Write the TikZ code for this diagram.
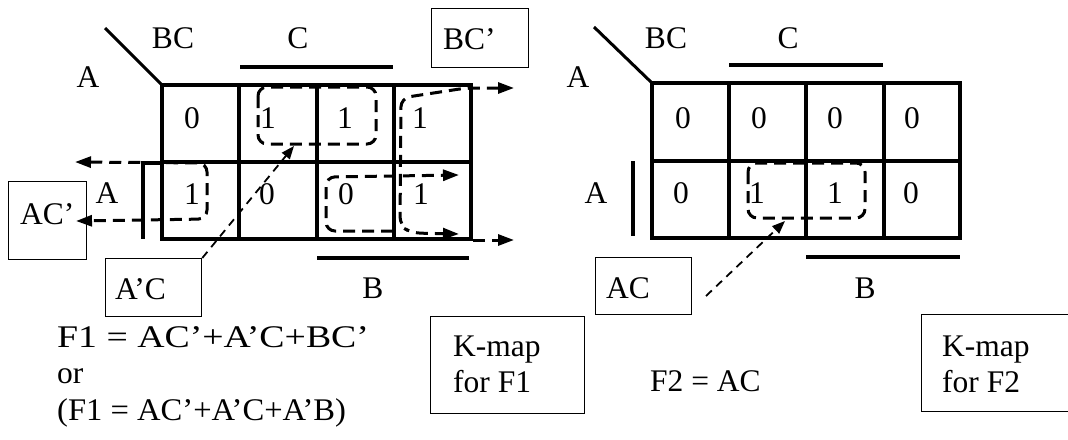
\documentclass[tikz,border=0pt]{standalone}
\usepackage{fontspec}
\setmainfont{Liberation Serif}
\usetikzlibrary{arrows.meta}
\begin{document}
\begin{tikzpicture}[x=1pt,y=-1pt,
  lab/.style={font=\fontsize{31.5}{36}\selectfont, inner sep=0pt},
  gridline/.style={line width=3.2pt, line cap=rect},
  bar/.style={line width=3.4pt},
  frame/.style={draw, line width=1.3pt, inner sep=0pt, anchor=north west},
  ring/.style={line width=3pt, dash pattern=on 12pt off 7pt, rounded corners=9pt},
  bigtip/.style={arrows={-Triangle[length=16pt,width=11pt]}},
  bothtip/.style={arrows={Triangle[length=16pt,width=11pt]-Triangle[length=16pt,width=11pt]}},
  pointer/.style={line width=1.8pt, dash pattern=on 8pt off 6pt, arrows={-Triangle[length=13pt,width=10pt]}}
]
\useasboundingbox (0,0) rectangle (1068,439);
\clip (0,0) rectangle (1068,439);

% ---------------- left K-map ----------------
\draw[line width=3pt] (105,28) -- (162,85);
\draw[gridline] (162,85) rectangle (471,239);
\draw[gridline] (162,162) -- (471,162);
\foreach \x in {239,317,394} \draw[gridline] (\x,85) -- (\x,239);
\draw[bar] (240,67) -- (393,67);
\draw[bar] (317,258) -- (469,258);
\draw[line width=3.2pt] (162,163) -- (143,163) -- (143,239);

\node[lab] (lBC) at (173,38) {BC};
\node[lab] (lC) at (298,38) {C};
\node[lab] (lA1) at (88,77) {A};
\node[lab] (lA2) at (107,193) {A};
\node[lab] (lB) at (373,288) {B};

\node[lab] (l11) at (192,118) {0};
\node[lab] (l12) at (268,118) {1};
\node[lab] (l13) at (345,118) {1};
\node[lab] (l14) at (420,118) {1};
\node[lab] (l21) at (192,194) {1};
\node[lab] (l22) at (267,194) {0};
\node[lab] (l23) at (346,194) {0};
\node[lab] (l24) at (421,194) {1};

% loops
\draw[ring] (258,87) rectangle (376,144);
\draw[ring,bothtip] (75,162) -- (207,163) -- (207,219) -- (76,221);
\draw[ring,bigtip] (393,231) -- (326,231) -- (326,177) -- (459,175);
\draw[ring,bothtip] (514,88) -- (466,88) -- (401,98) -- (400,226) -- (412,233) -- (459,234);
\draw[ring,bigtip] (473,240) -- (514,240);

% boxes
\node[frame, minimum width=97pt, minimum height=59pt] (boxBCp) at (431,8) {};
\node[lab, anchor=base west] (tBCp) at (443,49) {BC’};
\node[frame, minimum width=78pt, minimum height=78pt] (boxACp) at (8,181) {};
\node[lab, anchor=base west] (tACp) at (20,224) {AC’};
\node[frame, minimum width=96pt, minimum height=58pt] (boxApC) at (105,258) {};
\node[lab, anchor=base west] (tApC) at (115,299) {A’C};
\coordinate (apcTip) at (294,146);
\draw[pointer] (boxApC.north east) -- (apcTip);

\node[frame, minimum width=154pt, minimum height=97pt] (boxK1) at (430,316) {};
\node[lab, anchor=base west] (tK1a) at (453,356) {K-map};
\node[lab, anchor=base west] (tK1b) at (453,392) {for F1};

\node[lab, anchor=base west] (tF1a) at (57,347) {\scalebox{1.2}[1]{F1 = AC’+A’C+BC’}};
\node[lab, anchor=base west] (tF1b) at (57,383) {or};
\node[lab, anchor=base west] (tF1c) at (57,420) {\scalebox{1.035}[1]{(F1 = AC’+A’C+A’B)}};

% ---------------- right K-map ----------------
\draw[line width=3pt] (594,27) -- (652,83);
\draw[gridline] (652,83) rectangle (960,238);
\draw[gridline] (652,161) -- (960,161);
\foreach \x in {729,806,884} \draw[gridline] (\x,83) -- (\x,238);
\draw[bar] (729,65) -- (883,65);
\draw[bar] (806,257) -- (960,257);
\draw[bar] (633,161) -- (633,236);

\node[lab] (rBC) at (666,38) {BC};
\node[lab] (rC) at (788,38) {C};
\node[lab] (rA1) at (578,77) {A};
\node[lab] (rA2) at (596,193) {A};
\node[lab] (rB) at (865,288) {B};

\node[lab] (r11) at (683,118) {0};
\node[lab] (r12) at (759,118) {0};
\node[lab] (r13) at (835,118) {0};
\node[lab] (r14) at (912,118) {0};
\node[lab] (r21) at (681,193) {0};
\node[lab] (r22) at (757,193) {1};
\node[lab] (r23) at (835,193) {1};
\node[lab] (r24) at (911,193) {0};

\draw[ring] (748,163) rectangle (865,218);

\node[frame, minimum width=96pt, minimum height=57pt] (boxAC) at (595,257) {};
\node[lab, anchor=base west] (tAC) at (606,298) {AC};
\coordinate (acStart) at (706,296);
\coordinate (acTip) at (785,221);
\draw[pointer] (acStart) -- (acTip);

\node[lab, anchor=base west] (tF2) at (650,391) {F2 = AC};

\node[frame, minimum width=190pt, minimum height=97pt] (boxK2) at (921,314) {};
\node[lab, anchor=base west] (tK2a) at (942,356) {K-map};
\node[lab, anchor=base west] (tK2b) at (942,392) {for F2};
\end{tikzpicture}
\end{document}
